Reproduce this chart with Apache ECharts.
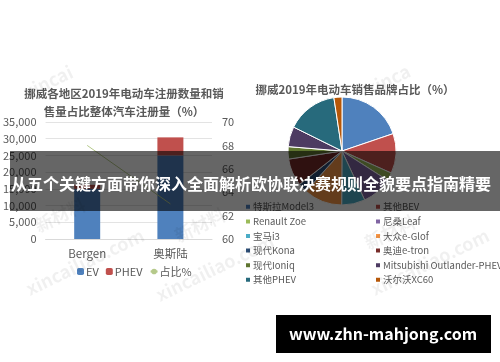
<!DOCTYPE html>
<html>
<head>
<meta charset="utf-8">
<script src="https://cdn.jsdelivr.net/npm/echarts@6/dist/echarts.min.js"></script>
<style>
  html, body { margin: 0; padding: 0; background: #fff; }
  #chart { width: 500px; height: 362px; }
</style>
</head>
<body>
<div id="chart"></div>
<script>
// Registrations by region (bar + share line)
const regions = ['Bergen', '奥斯陆'];
const evCounts = [15000, 25000];
const phevCounts = [1200, 5400];
const sharePct = [68.0, 63.0];
const leftTicks = { min: 0, max: 35000, interval: 5000 };
const rightTicks = { min: 60, max: 70, interval: 2 };

// Brand share of 2019 EV sales (%)
const brands = ['特斯拉Model3', '其他BEV', 'Renault Zoe', '尼桑Leaf', '宝马i3', '大众e-Glof',
                '现代Kona', '奥迪e-tron', '现代Ioniq', 'Mitsubishi Outlander-PHEV', '其他PHEV', '沃尔沃XC60'];
const brandShare = [19.8, 11.9, 2.4, 9.0, 7.0, 11.5, 2.8, 8.2, 3.7, 6.0, 15.3, 2.4];
const brandColors = ['#4F81BD', '#C0504D', '#9BBB59', '#8064A2', '#4BACC6', '#F79646',
                     '#2C4D75', '#772C2A', '#5F7530', '#4D3B62', '#276A7C', '#B65708'];

const FONT = '"Noto Sans CJK SC", "Noto Sans", sans-serif';
const TXT = '#595959';

const chart = echarts.init(document.getElementById('chart'), null, { renderer: 'canvas' });

const leftCol = brands.filter((_, i) => i % 2 === 0);
const rightCol = brands.filter((_, i) => i % 2 === 1);

function watermark(text, x, y, size) {
  return {
    type: 'text', x: x, y: y, rotation: Math.PI / 7, z: 50, silent: true,
    style: { text: text, fill: 'rgba(0,0,0,0.06)', font: 'bold ' + size + 'px ' + FONT,
             align: 'center', verticalAlign: 'middle' }
  };
}

const pieLegendText = { color: TXT, fontSize: 9.5, lineHeight: 13.6, padding: [0, 0, 0, -3], fontFamily: FONT };

chart.setOption({
  animation: false,
  textStyle: { fontFamily: FONT },
  title: [
    {
      text: '挪威各地区2019年电动车注册数量和销\n售量占比整体汽车注册量（%）',
      left: 119, top: 80, textAlign: 'center',
      textStyle: { fontSize: 11.5, fontWeight: 'bold', color: TXT, lineHeight: 18, fontFamily: FONT }
    },
    {
      text: '挪威2019年电动车销售品牌占比（%）',
      left: 350, top: 79, textAlign: 'center',
      textStyle: { fontSize: 11.5, fontWeight: 'bold', color: TXT, fontFamily: FONT }
    }
  ],
  grid: { left: 42, right: 288, top: 122, bottom: 123, containLabel: false },
  xAxis: {
    type: 'category', data: regions,
    axisLine: { lineStyle: { color: '#d9d9d9' } },
    axisTick: { show: false },
    axisLabel: { color: TXT, fontSize: 11.5, margin: 9, fontFamily: FONT }
  },
  yAxis: [
    {
      type: 'value', min: leftTicks.min, max: leftTicks.max, interval: leftTicks.interval,
      axisLine: { show: false }, axisTick: { show: false },
      axisLabel: { color: TXT, fontSize: 11, margin: 9, fontFamily: FONT },
      splitLine: { lineStyle: { color: '#e3e3e3' } }
    },
    {
      type: 'value', min: rightTicks.min, max: rightTicks.max, interval: rightTicks.interval,
      axisLine: { show: false }, axisTick: { show: false },
      axisLabel: { color: TXT, fontSize: 11, margin: 10, fontFamily: FONT },
      splitLine: { show: false }
    }
  ],
  legend: [
    {
      data: ['EV', 'PHEV', '占比%'], left: 72, top: 261,
      itemWidth: 7, itemHeight: 7, itemGap: 7,
      textStyle: { color: TXT, fontSize: 11, padding: [0, 0, 0, -3], fontFamily: FONT }
    },
    {
      data: leftCol, orient: 'vertical', left: 239, top: 195,
      itemWidth: 6, itemHeight: 6, itemGap: 1, icon: 'rect',
      textStyle: pieLegendText
    },
    {
      data: rightCol, orient: 'vertical', left: 369, top: 195,
      itemWidth: 6, itemHeight: 6, itemGap: 1, icon: 'rect',
      textStyle: pieLegendText
    }
  ],
  series: [
    {
      name: 'EV', type: 'bar', stack: 'reg', data: evCounts, barWidth: 26,
      itemStyle: { color: '#4F81BD' }
    },
    {
      name: 'PHEV', type: 'bar', stack: 'reg', data: phevCounts, barWidth: 26,
      itemStyle: { color: '#C0504D' }
    },
    {
      name: '占比%', type: 'line', yAxisIndex: 1, data: sharePct,
      symbol: 'none', lineStyle: { color: '#B5C98A', width: 1 }, itemStyle: { color: '#B5C98A' }
    },
    {
      name: '品牌占比', type: 'pie', center: [342, 151], radius: 54,
      startAngle: 90, clockwise: true,
      label: { show: false }, labelLine: { show: false },
      itemStyle: { borderColor: '#ffffff', borderWidth: 1 },
      data: brands.map((b, i) => ({ name: b, value: brandShare[i], itemStyle: { color: brandColors[i] } }))
    }
  ],
  graphic: [
    watermark('xincai', 48, 82, 18),
    watermark('xinca', 388, 80, 18),
    watermark('新材料', 60, 215, 18),
    watermark('xincailiao.com', 85, 262, 18),
    watermark('新材料', 200, 225, 18),
    watermark('xincailiao.com', 215, 268, 18),
    watermark('新材料', 390, 232, 18),
    watermark('xincailiao.com', 430, 262, 18),
    {
      type: 'rect', z: 100, silent: true,
      shape: { x: 10, y: 151, width: 490, height: 60 },
      style: { fill: 'rgba(0,0,0,0.6)' }
    },
    {
      type: 'text', z: 101, silent: true, x: 251, y: 184,
      style: {
        text: '从五个关键方面带你深入全面解析欧协联决赛规则全貌要点指南精要',
        fill: '#ffffff', font: 'bold 16px ' + FONT, align: 'center', verticalAlign: 'middle'
      }
    },
    {
      type: 'rect', z: 100, silent: true,
      shape: { x: 276, y: 315, width: 215, height: 38 },
      style: { fill: '#000000' }
    },
    {
      type: 'text', z: 101, silent: true, x: 383, y: 334,
      style: {
        text: 'www.zhn-mahjong.com', fill: '#ffffff',
        font: 'bold 16px ' + FONT, align: 'center', verticalAlign: 'middle'
      }
    }
  ]
});
</script>
</body>
</html>
